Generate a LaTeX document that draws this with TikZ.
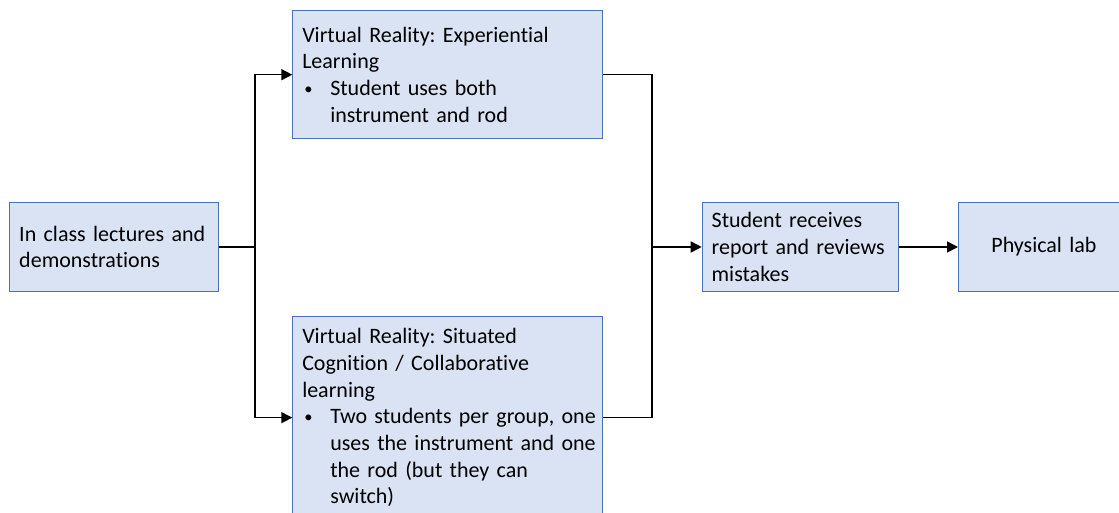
\documentclass[tikz,border=0pt]{standalone}
\usepackage{fontspec}
\setmainfont{Carlito}[Ligatures=NoCommon]
\usetikzlibrary{arrows.meta}
\definecolor{boxfill}{HTML}{DAE3F3}
\definecolor{boxline}{HTML}{4A72B8}
\newcommand{\bul}{\makebox[28pt][l]{\hspace{2pt}\raisebox{1pt}{\scalebox{0.75}{\textbullet}}}}
\newcommand{\ind}{\hspace*{28pt}}
\frenchspacing
\begin{document}
\begin{tikzpicture}[x=1pt,y=-1pt,
  box/.style={draw=boxline, line width=0.9pt, fill=boxfill, rectangle, anchor=north west,
    inner xsep=9.5pt, inner ysep=0pt, align=left,
    font=\fontsize{22}{26.7}\selectfont\frenchspacing},
  conn/.style={line width=1.6pt, black},
  arr/.style={conn, -{Triangle[length=11pt,width=11pt]}}]
\useasboundingbox (0,0) rectangle (1119,513);
\clip (0,0) rectangle (1119,513);
\node[box, minimum width=209pt, minimum height=88.5pt, text width=190pt] (A) at (9.3,202.3)
  {\mbox{In class lectures and}\\\mbox{demonstrations}};
\node[box, minimum width=309.4pt, minimum height=127.5pt, text width=290.4pt] (B) at (292.3,10.5)
  {\mbox{Virtual Reality: Experiential}\\\mbox{Learning}\\
   \bul\mbox{Student uses both}\\\ind\mbox{instrument and rod}};
\node[box, minimum width=309.4pt, minimum height=203pt, text width=290.4pt] (C) at (292.3,315.7)
  {\mbox{Virtual Reality: Situated}\\\mbox{Cognition / Collaborative}\\\mbox{learning}\\
   \bul\mbox{Two students per group, one}\\\ind\mbox{uses the instrument and one}\\
   \ind\mbox{the rod (but they can}\\\ind\mbox{switch)}};
\node[box, minimum width=196pt, minimum height=88.5pt, text width=177pt] (D) at (701.7,202.3)
  {\mbox{Student receives}\\\mbox{report and reviews}\\\mbox{mistakes}};
\node[box, minimum width=171pt, minimum height=88.5pt, text width=152pt, align=center] (E) at (958,202.3)
  {Physical lab};
\coordinate (j1) at (A.east -| 255,0);
\coordinate (j2) at (D.west -| 652,0);
\draw[conn] (A.east) -- (j1);
\draw[arr] (j1) |- (B.west);
\draw[arr] (j1) |- (C.west);
\draw[conn] (B.east) -| (j2);
\draw[conn] (C.east) -| (j2);
\draw[arr] (j2) -- (D.west);
\draw[arr] (D.east) -- (E.west);
\end{tikzpicture}
\end{document}
